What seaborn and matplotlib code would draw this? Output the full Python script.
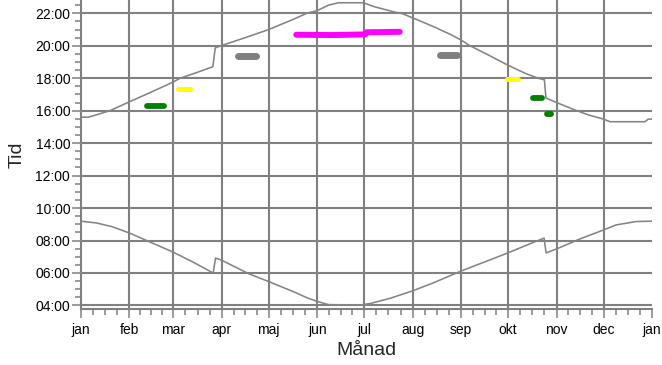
import matplotlib
matplotlib.use("Agg")
import matplotlib.pyplot as plt
import numpy as np
import pandas as pd
import seaborn as sns
from matplotlib.ticker import FixedLocator, MultipleLocator

# ---------------- data ----------------
month_labels = ["jan", "feb", "mar", "apr", "maj", "jun", "jul",
                "aug", "sep", "okt", "nov", "dec", "jan"]
month_start_days = [0, 31, 59, 90, 120, 151, 181, 212, 243, 273, 304, 334, 365]
hour_ticks = [4, 6, 8, 10, 12, 14, 16, 18, 20, 22]
hour_labels = ["04:00", "06:00", "08:00", "10:00", "12:00",
               "14:00", "16:00", "18:00", "20:00", "22:00"]

# sunset (upper curve), day of year -> hour
sunset_days = [0, 4.7, 10, 18.5, 31, 45, 59, 63.3, 74, 84.3, 85.8, 90, 105,
               120, 135, 144.3, 151, 158.2, 164.5, 180.5, 187, 199.5, 205.9,
               212, 216.7, 226, 235.9, 243, 248.7, 258, 273, 284, 292.3, 296.2,
               297.2, 304, 316.9, 325, 334, 338.2, 360.5, 362.6, 365]
sunset_hours = [15.60, 15.60, 15.75, 16.00, 16.55, 17.15, 17.77, 18.00, 18.35,
                18.71, 19.87, 20.02, 20.50, 21.00, 21.60, 22.00, 22.17, 22.50,
                22.65, 22.65, 22.42, 22.10, 21.96, 21.72, 21.53, 21.15, 20.71,
                20.35, 20.00, 19.55, 18.80, 18.30, 18.00, 17.90, 16.78, 16.50,
                16.00, 15.72, 15.48, 15.32, 15.32, 15.48, 15.48]

# sunrise (lower curve)
sunrise_days = [0, 10, 20, 31, 45, 59, 72, 84.5, 86, 90, 107.5, 120, 135, 145,
                151, 158, 178, 185, 198, 212, 225, 235.9, 243, 258, 273, 285,
                296, 297.3, 304, 319, 334, 342, 355, 365]
sunrise_hours = [9.19, 9.08, 8.85, 8.46, 7.87, 7.28, 6.65, 6.00, 6.92, 6.78,
                 5.94, 5.47, 4.88, 4.45, 4.25, 4.05, 4.02, 4.12, 4.45, 4.90,
                 5.38, 5.83, 6.12, 6.68, 7.24, 7.72, 8.15, 7.24, 7.48, 8.10,
                 8.65, 8.96, 9.17, 9.19]

# coloured periods (start day, end day, hour)
green_starts = [40.3, 287.0, 296.0]
green_ends = [54.8, 296.7, 302.5]
green_hours = [16.26, 16.80, 15.77]

yellow_starts = [60.7, 270.5]
yellow_ends = [71.4, 280.7]
yellow_hours = [17.31, 17.95]

gray_starts = [98.0, 227.0]
gray_ends = [113.8, 242.3]
gray_hours = [19.37, 19.44]

magenta_days = [135.7, 160.0, 181.5, 182.5, 205.6]
magenta_hours = [20.68, 20.66, 20.70, 20.83, 20.86]

# ---------------- style ----------------
sns.set_style("white")
plt.rcParams["font.family"] = ["Liberation Sans", "DejaVu Sans"]

GRID = "#808080"
CURVE = "#848484"

W, H = 662, 365
AX_L, AX_R, AX_B = 81, 652, 309
fig = plt.figure(figsize=(W / 100, H / 100), dpi=100)
ax = fig.add_axes([AX_L / W, (H - AX_B) / H, (AX_R - AX_L) / W, AX_B / H])
PX_PER_DAY = (AX_R - AX_L) / 365.0

sun = pd.DataFrame({"day": sunset_days, "hour": sunset_hours})
rise = pd.DataFrame({"day": sunrise_days, "hour": sunrise_hours})
sns.lineplot(data=sun, x="day", y="hour", ax=ax, color=CURVE, lw=1.15,
             sort=False, estimator=None, zorder=3)
sns.lineplot(data=rise, x="day", y="hour", ax=ax, color=CURVE, lw=1.15,
             sort=False, estimator=None, zorder=3)


def cap_off(lw):
    # half the line width (pt -> px) expressed in days, for round caps
    return lw * 100 / 72 / 2 / PX_PER_DAY


def periods(starts, ends, hours, color, lw):
    off = cap_off(lw)
    for s, e, h in zip(starts, ends, hours):
        a, b = s + off, max(e - off, s + off + 0.1)
        df = pd.DataFrame({"day": [a, b], "hour": [h, h]})
        sns.lineplot(data=df, x="day", y="hour", ax=ax, color=color, lw=lw,
                     estimator=None, solid_capstyle="round", zorder=4)


periods(green_starts, green_ends, green_hours, "#007f00", 4.2)
periods(yellow_starts, yellow_ends, yellow_hours, "#ffff00", 3.6)
periods(gray_starts, gray_ends, gray_hours, "#808080", 5.0)
moff = cap_off(4.3)
mdays = list(magenta_days)
mdays[0] += moff
mdays[-1] -= moff
mag = pd.DataFrame({"day": mdays, "hour": magenta_hours})
sns.lineplot(data=mag, x="day", y="hour", ax=ax, color="#ff00ff", lw=4.3,
             sort=False, estimator=None, solid_capstyle="round", zorder=4)

# axes limits
ax.set_xlim(0, 365)
ax.set_ylim(3.78, 22.82)

# x ticks
ax.xaxis.set_major_locator(FixedLocator(month_start_days))
ax.set_xticklabels(month_labels)
minor_x = []
for a, b in zip(month_start_days[:-1], month_start_days[1:]):
    minor_x += [a + (b - a) * k / 4 for k in (1, 2, 3)]
ax.xaxis.set_minor_locator(FixedLocator(minor_x))

# y ticks
ax.yaxis.set_major_locator(FixedLocator(hour_ticks))
ax.set_yticklabels(hour_labels)
ax.yaxis.set_minor_locator(MultipleLocator(0.5))

ax.tick_params(axis="both", which="major", length=6.8, width=1.1,
               color=GRID, labelsize=10, labelcolor="black")
ax.tick_params(axis="both", which="minor", length=4.0, width=1.1, color=GRID)
ax.tick_params(axis="x", which="both", bottom=True, pad=3)
ax.tick_params(axis="y", which="both", left=True, pad=1)

ax.grid(True, which="major", color=GRID, lw=1.5)
ax.set_axisbelow(True)
ax.get_xgridlines()[-1].set_visible(False)
ax.get_xgridlines()[0].set_visible(False)

for side in ("top", "right"):
    ax.spines[side].set_visible(False)
for side in ("left", "bottom"):
    ax.spines[side].set_color(GRID)
    ax.spines[side].set_linewidth(1.5)

ax.set_xlabel("Månad", fontsize=14, labelpad=4)
ax.set_ylabel("Tid", fontsize=14, labelpad=7)

fig.savefig("out.png", dpi=100)
